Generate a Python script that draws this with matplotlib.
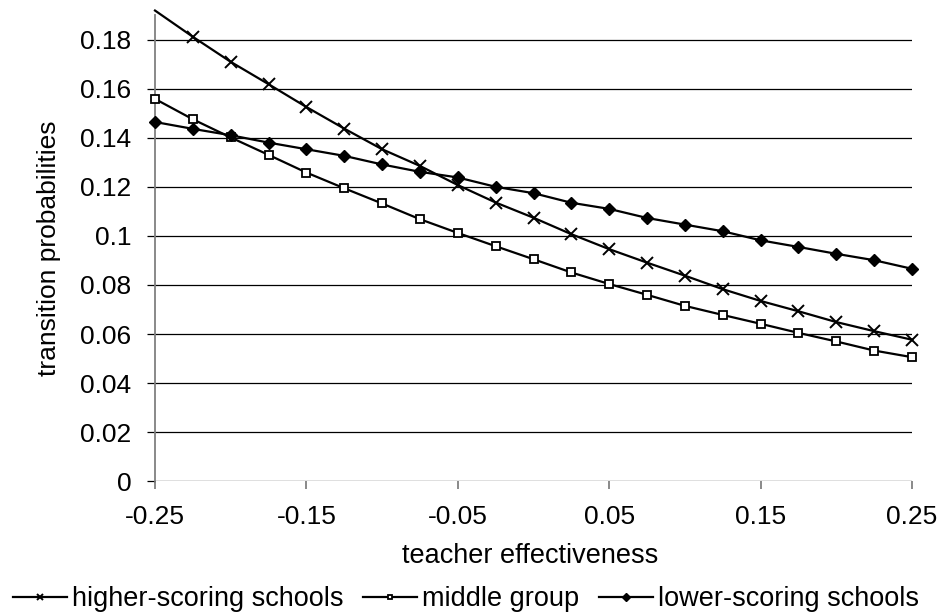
import matplotlib
matplotlib.use("Agg")
import matplotlib.pyplot as plt
import numpy as np
from matplotlib.ticker import FixedLocator, FuncFormatter

plt.rcParams['font.family'] = ['Liberation Sans', 'DejaVu Sans']

# ---- data ----
teacher_effectiveness = [-0.25, -0.225, -0.2, -0.175, -0.15, -0.125, -0.1, -0.075, -0.05, -0.025,
                         0.0, 0.025, 0.05, 0.075, 0.1, 0.125, 0.15, 0.175, 0.2, 0.225, 0.25]
higher_scoring = [0.1918, 0.1811, 0.1709, 0.1618, 0.1525, 0.1437, 0.1353, 0.1285, 0.1207, 0.1136,
                  0.1074, 0.1007, 0.0946, 0.0891, 0.0838, 0.0783, 0.0735, 0.0693, 0.0649, 0.0612, 0.0577]
middle_group = [0.1558, 0.1475, 0.1401, 0.1330, 0.1258, 0.1194, 0.1132, 0.1068, 0.1012, 0.0958,
                0.0905, 0.0851, 0.0804, 0.0760, 0.0715, 0.0678, 0.0642, 0.0605, 0.0570, 0.0533, 0.0506]
lower_scoring = [0.1464, 0.1436, 0.1410, 0.1380, 0.1353, 0.1326, 0.1291, 0.1261, 0.1238, 0.1200,
                 0.1174, 0.1135, 0.1110, 0.1073, 0.1046, 0.1019, 0.0982, 0.0955, 0.0927, 0.0901, 0.0866]
series_names = ["higher-scoring schools", "middle group", "lower-scoring schools"]
x_ticks = [-0.25, -0.15, -0.05, 0.05, 0.15, 0.25]
x_tick_labels = ["-0.25", "-0.15", "-0.05", "0.05", "0.15", "0.25"]
y_ticks = [0, 0.02, 0.04, 0.06, 0.08, 0.1, 0.12, 0.14, 0.16, 0.18]
y_tick_labels = ["0", "0.02", "0.04", "0.06", "0.08", "0.1", "0.12", "0.14", "0.16", "0.18"]
y_max = 0.19

W, H = 943, 616
fig = plt.figure(figsize=(W / 100, H / 100), dpi=100)
left_px, right_px, bottom_px = 155, 912, 481.4
top_px = bottom_px - y_max * 2455
ax = fig.add_axes([left_px / W, 1 - bottom_px / H, (right_px - left_px) / W, (bottom_px - top_px) / H])

ax.set_xlim(-0.25, 0.25)
ax.set_ylim(0, y_max)

# gridlines
for v in y_ticks:
    ax.axhline(v, color='black', lw=0.9, zorder=1)

styles = [
    dict(marker='x', markersize=8, markeredgewidth=1.4, markerfacecolor='black'),
    dict(marker='s', markersize=6, markeredgewidth=1.3, markerfacecolor='white'),
    dict(marker='D', markersize=6.5, markeredgewidth=1.0, markerfacecolor='black'),
]
handles = []
for ys, name, st in zip([higher_scoring, middle_group, lower_scoring], series_names, styles):
    mk = [y <= y_max for y in ys]
    h, = ax.plot(teacher_effectiveness, ys, color='black', lw=1.6, markeredgecolor='black',
                 markevery=mk, clip_on=False, zorder=3, label=name, **st)
    handles.append(h)

for s in ['top', 'right', 'bottom']:
    ax.spines[s].set_visible(False)
ax.spines['left'].set_color('#808080')
ax.spines['left'].set_linewidth(1.3)

ax.xaxis.set_major_locator(FixedLocator(x_ticks))
ax.set_xticklabels(x_tick_labels)
ax.yaxis.set_major_locator(FixedLocator(y_ticks))
ax.set_yticklabels(y_tick_labels)
ax.tick_params(axis='x', direction='out', length=6, width=1.3, color='#808080', pad=11, labelsize=19)
ax.tick_params(axis='y', direction='out', length=6, width=0.9, color='black', pad=11, labelsize=19)

fig.text(49 / W, 1 - 248 / H, "transition probabilities", rotation=90, ha='center', va='center', fontsize=19)
fig.text(530 / W, 1 - 563 / H, "teacher effectiveness", ha='center', va='baseline', fontsize=19.5)

leg = fig.legend(handles=handles, labels=series_names, loc='center', ncol=3,
                 bbox_to_anchor=(466 / W, 1 - 599 / H), frameon=False, fontsize=19.5,
                 handlelength=2.0, handletextpad=0.2, columnspacing=0.7, markerscale=0.6,
                 borderaxespad=0, borderpad=0)

fig.savefig("out.png", dpi=100)
